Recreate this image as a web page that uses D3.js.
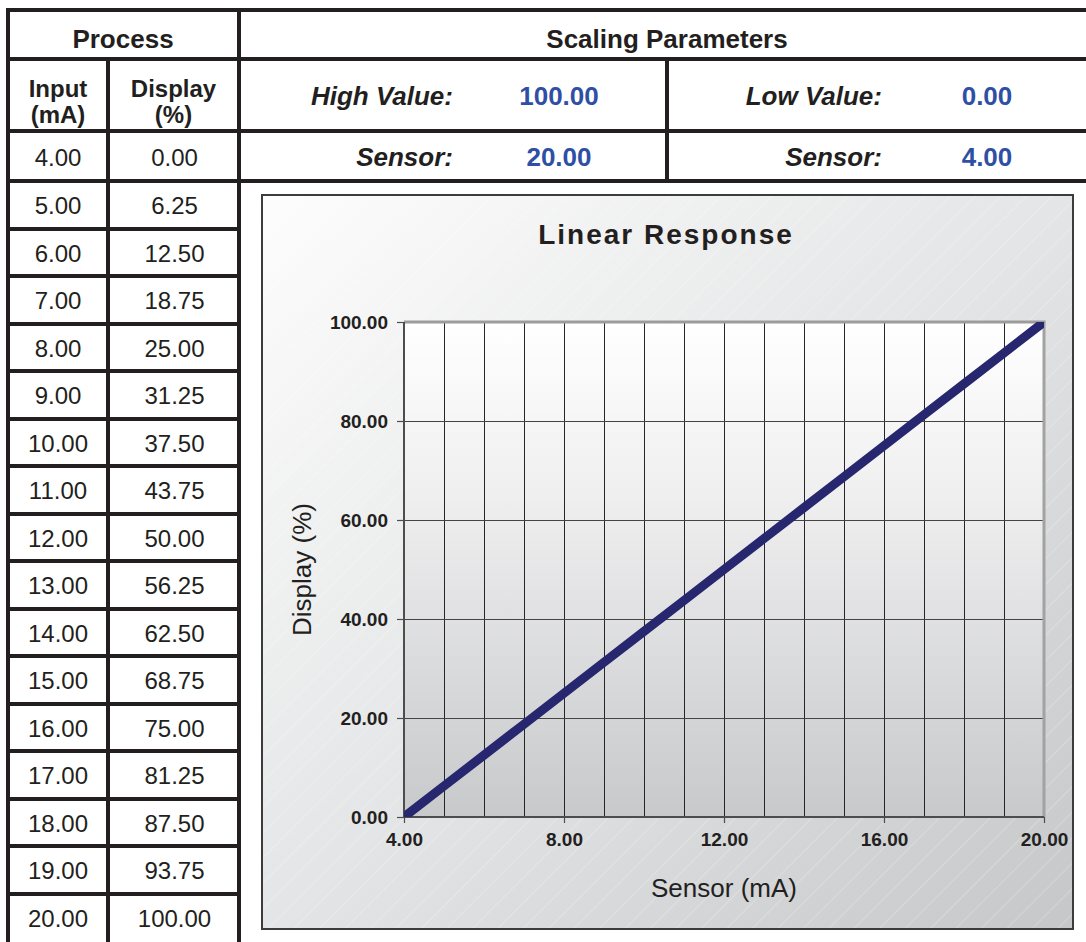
<!DOCTYPE html>
<html lang="en">
<head>
<meta charset="UTF-8">
<title>Linear Response</title>
<style>
    body {
        margin: 0;
        padding: 0;
        background-color: #fff;
        font-family: Arial, "Liberation Sans", sans-serif;
    }
    svg text {
        fill: #231f20;
    }
</style>
</head>
<body>
<svg id="chart" width="1086" height="942"></svg>

<script src="https://d3js.org/d3.v7.min.js"></script>
<script>
    const inputMA = [4, 5, 6, 7, 8, 9, 10, 11, 12, 13, 14, 15, 16, 17, 18, 19, 20];
    const displayPct = [0, 6.25, 12.5, 18.75, 25, 31.25, 37.5, 43.75, 50, 56.25, 62.5, 68.75, 75, 81.25, 87.5, 93.75, 100];
    const scaleLabels = ["High Value:", "Sensor:", "Low Value:", "Sensor:"];
    const scaleValues = [100, 20, 0, 4];
    const xTicks = [4, 8, 12, 16, 20];
    const yTicks = [0, 20, 40, 60, 80, 100];

    const svg = d3.select("#chart");
    const defs = svg.append("defs");

    const ink = "#231f20";
    const blue = "#2f4fa5";

    // ---------- table ----------
    const colX = [8, 108, 239];           // left table column edges
    const rowY = d3.scaleLinear().domain([1, 17]).range([181, 941]);
    const rowTop = i => i === 0 ? 131 : rowY(i);
    const rowBot = i => i === 0 ? 181 : rowY(i + 1);

    const grid = svg.append("g").attr("stroke", ink).attr("stroke-width", 4);
    // long horizontal lines
    [10, 59, 131, 181].forEach(y => {
        grid.append("line").attr("x1", 6).attr("x2", 1086).attr("y1", y).attr("y2", y);
    });
    // row separators of the process table
    d3.range(2, 17).forEach(i => {
        grid.append("line").attr("x1", 6).attr("x2", 241)
            .attr("y1", Math.round(rowY(i))).attr("y2", Math.round(rowY(i)));
    });
    // verticals
    grid.append("line").attr("x1", 8).attr("x2", 8).attr("y1", 8).attr("y2", 942);
    grid.append("line").attr("x1", 239).attr("x2", 239).attr("y1", 8).attr("y2", 942);
    grid.append("line").attr("x1", 108).attr("x2", 108).attr("y1", 59).attr("y2", 942);
    grid.append("line").attr("x1", 667).attr("x2", 667).attr("y1", 59).attr("y2", 181);

    // headers
    svg.append("text").attr("x", 123).attr("y", 48).attr("text-anchor", "middle")
        .attr("font-size", 26).attr("font-weight", "bold").text("Process");
    svg.append("text").attr("x", 667).attr("y", 48).attr("text-anchor", "middle")
        .attr("font-size", 26).attr("font-weight", "bold").text("Scaling Parameters");

    const colHead = [["Input", "(mA)"], ["Display", "(%)"]];
    colHead.forEach((lines, c) => {
        const cx = (colX[c] + colX[c + 1]) / 2;
        lines.forEach((t, k) => {
            svg.append("text").attr("x", cx).attr("y", 97 + k * 26)
                .attr("text-anchor", "middle").attr("font-size", 24)
                .attr("font-weight", "bold").text(t);
        });
    });

    // table body
    const body = svg.append("g").attr("font-size", 24).attr("text-anchor", "middle");
    inputMA.forEach((v, i) => {
        const y = (rowTop(i) + rowBot(i)) / 2 + 9.5;
        body.append("text").attr("x", (colX[0] + colX[1]) / 2).attr("y", y).text(v.toFixed(2));
        body.append("text").attr("x", (colX[1] + colX[2]) / 2 + 1).attr("y", y).text(displayPct[i].toFixed(2));
    });

    // scaling parameters
    const labelRight = [453, 453, 882, 882];
    const valueCenter = [559, 559, 987, 987];
    const paramBase = [105, 166, 105, 166];
    scaleLabels.forEach((t, i) => {
        svg.append("text").attr("x", labelRight[i]).attr("y", paramBase[i])
            .attr("text-anchor", "end").attr("font-size", 26)
            .attr("font-weight", "bold").attr("font-style", "italic").text(t);
        svg.append("text").attr("x", valueCenter[i]).attr("y", paramBase[i])
            .attr("text-anchor", "middle").attr("font-size", 26)
            .attr("font-weight", "bold").style("fill", blue)
            .text(scaleValues[i].toFixed(2));
    });

    // ---------- chart ----------
    const box = { x: 262, y: 195, w: 811, h: 734 };

    const bgGrad = defs.append("linearGradient").attr("id", "bgGrad")
        .attr("x1", 0).attr("y1", 0).attr("x2", 1).attr("y2", 1);
    bgGrad.append("stop").attr("offset", 0).attr("stop-color", "#fdfdfd");
    bgGrad.append("stop").attr("offset", 0.5).attr("stop-color", "#e4e5e6");
    bgGrad.append("stop").attr("offset", 1).attr("stop-color", "#c6c7c9");

    const plotGrad = defs.append("linearGradient").attr("id", "plotGrad")
        .attr("x1", 0).attr("y1", 0).attr("x2", 0).attr("y2", 1);
    plotGrad.append("stop").attr("offset", 0).attr("stop-color", "#ffffff");
    plotGrad.append("stop").attr("offset", 0.35).attr("stop-color", "#efeff0");
    plotGrad.append("stop").attr("offset", 1).attr("stop-color", "#c8c9cb");

    const hatch = defs.append("pattern").attr("id", "hatch")
        .attr("patternUnits", "userSpaceOnUse").attr("width", 18).attr("height", 18)
        .attr("patternTransform", "rotate(45)");
    hatch.append("line").attr("x1", 0).attr("x2", 0).attr("y1", 0).attr("y2", 18)
        .attr("stroke", "#ffffff").attr("stroke-width", 1).attr("stroke-opacity", 0.45);

    svg.append("rect").attr("x", box.x).attr("y", box.y).attr("width", box.w).attr("height", box.h)
        .attr("fill", "url(#bgGrad)");
    svg.append("rect").attr("x", box.x).attr("y", box.y).attr("width", box.w).attr("height", box.h)
        .attr("fill", "url(#hatch)").attr("stroke", "#3c3c3c").attr("stroke-width", 2);

    svg.append("text").attr("x", 666).attr("y", 244).attr("text-anchor", "middle")
        .attr("font-size", 28).attr("font-weight", "bold").attr("letter-spacing", 2)
        .text("Linear Response");

    const x = d3.scaleLinear().domain([4, 20]).range([404, 1044]);
    const y = d3.scaleLinear().domain([0, 100]).range([817, 322]);

    svg.append("rect").attr("x", x(4)).attr("y", y(100))
        .attr("width", x(20) - x(4)).attr("height", y(0) - y(100))
        .attr("fill", "url(#plotGrad)");

    // grid lines
    const vGrid = d3.range(5, 20);
    svg.append("g").selectAll("line").data(vGrid).join("line")
        .attr("x1", d => x(d) + 0.5).attr("x2", d => x(d) + 0.5)
        .attr("y1", y(100)).attr("y2", y(0))
        .attr("stroke", "#262626").attr("stroke-width", 1)
        .attr("shape-rendering", "crispEdges");
    svg.append("g").selectAll("line").data(yTicks.slice(1, -1)).join("line")
        .attr("x1", x(4)).attr("x2", x(20))
        .attr("y1", d => Math.round(y(d)) + 0.5).attr("y2", d => Math.round(y(d)) + 0.5)
        .attr("stroke", "#444444").attr("stroke-width", 1)
        .attr("shape-rendering", "crispEdges");

    // top and right frame of the plot
    svg.append("line").attr("x1", x(4)).attr("x2", x(20) + 1.5)
        .attr("y1", y(100)).attr("y2", y(100))
        .attr("stroke", "#9c9c9c").attr("stroke-width", 3);
    svg.append("line").attr("x1", x(20)).attr("x2", x(20))
        .attr("y1", y(100)).attr("y2", y(0))
        .attr("stroke", "#a2a2a2").attr("stroke-width", 3);

    // axes
    const xAxis = d3.axisBottom(x).tickValues(xTicks).tickSize(6).tickPadding(10)
        .tickFormat(d => d.toFixed(2));
    const yAxis = d3.axisLeft(y).tickValues(yTicks).tickSize(7).tickPadding(9)
        .tickFormat(d => d.toFixed(2));

    const gx = svg.append("g").attr("transform", `translate(0,${y(0)})`).call(xAxis);
    const gy = svg.append("g").attr("transform", `translate(${x(4)},0)`).call(yAxis);
    [gx, gy].forEach(g => {
        g.select(".domain").attr("stroke", "#4d4d4d").attr("stroke-width", 2);
        g.selectAll(".tick line").attr("stroke", "#4d4d4d").attr("stroke-width", 1.2);
        g.selectAll(".tick text").attr("font-size", 19).attr("font-weight", "bold")
            .attr("font-family", "Arial, 'Liberation Sans', sans-serif").style("fill", ink);
    });
    gx.select(".domain").attr("d", `M${x(4)},0H${x(20)}`);
    gy.select(".domain").attr("d", `M0,${y(0)}V${y(100)}`);

    // data line
    defs.append("clipPath").attr("id", "plotClip").append("rect")
        .attr("x", x(4)).attr("y", y(100))
        .attr("width", x(20) - x(4)).attr("height", y(0) - y(100));

    const line = d3.line().x(d => x(d[0])).y(d => y(d[1]));
    svg.append("path")
        .datum(inputMA.map((v, i) => [v, displayPct[i]]))
        .attr("d", line)
        .attr("fill", "none")
        .attr("stroke", "#27276f")
        .attr("stroke-width", 9)
        .attr("stroke-linecap", "square")
        .attr("clip-path", "url(#plotClip)");

    // axis titles
    svg.append("text").attr("x", (x(4) + x(20)) / 2).attr("y", 897)
        .attr("text-anchor", "middle").attr("font-size", 26).text("Sensor (mA)");
    svg.append("text")
        .attr("transform", `translate(311,${(y(0) + y(100)) / 2}) rotate(-90)`)
        .attr("text-anchor", "middle").attr("font-size", 26).text("Display (%)");
</script>
</body>
</html>
